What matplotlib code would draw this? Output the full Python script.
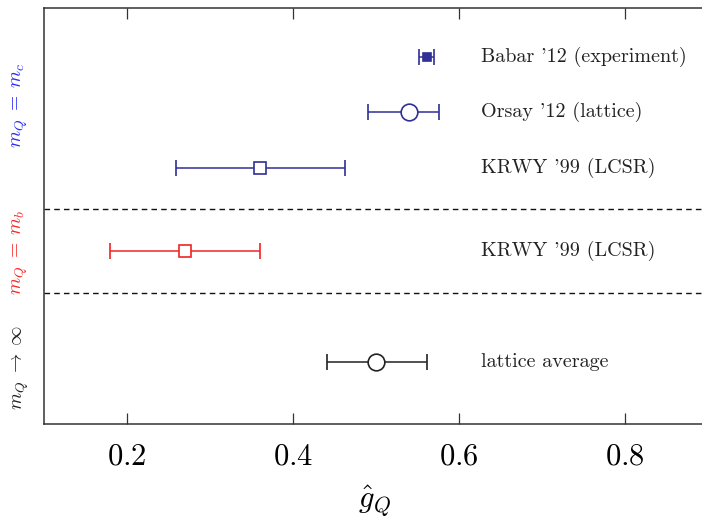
import matplotlib
matplotlib.use("Agg")
import matplotlib.pyplot as plt

plt.rcParams.update({
    "font.family": "serif",
    "font.serif": ["cmr10", "DejaVu Serif"],
    "mathtext.fontset": "cm",
    "axes.unicode_minus": False,
})

# measurements of g_Q (central value, lower, upper)
labels = ["Babar '12 (experiment)", "Orsay '12 (lattice)", "KRWY '99 (LCSR)",
          "KRWY '99 (LCSR)", "lattice average"]
rows = [7.0, 6.0, 5.0, 3.5, 1.5]
centers = [0.561, 0.540, 0.360, 0.270, 0.500]
lows = [0.552, 0.490, 0.259, 0.180, 0.441]
highs = [0.570, 0.576, 0.463, 0.360, 0.561]
markers = ["s", "o", "s", "s", "o"]
filled = [True, False, False, False, False]
msizes = [6, 12, 8, 8, 12]

separators = [4.25, 2.75]
groups = [r"$m_Q\;=\;m_c$", r"$m_Q\;=\;m_b$", r"$m_Q\;\to\;\infty$"]
ticks = [0.2, 0.4, 0.6, 0.8]

NAVY = "#2f2f96"
RED = "#f02424"
BLACK = "#222222"
colors = [NAVY, NAVY, NAVY, RED, BLACK]
group_colors = ["#2b2bf5", "#f52a2a", "#222222"]

fig = plt.figure(figsize=(7.02, 5.19), dpi=100)
ax = fig.add_axes([0.0627, 0.183, 0.946, 0.8015])

for y, c, lo, hi, m, f, ms, col, lab in zip(rows, centers, lows, highs, markers,
                                            filled, msizes, colors, labels):
    ax.errorbar([c], [y], xerr=[[c - lo], [hi - c]], fmt=m, color=col,
                ecolor=col, elinewidth=1.1, capsize=6, capthick=1.1,
                markersize=ms, markeredgewidth=1.2,
                markerfacecolor=col if f else "white", markeredgecolor=col)
    ax.text(0.627, y, lab, ha="left", va="center", fontsize=14.5, color="#222222")

for s in separators:
    ax.axhline(s, color="#111111", linestyle=(0, (4, 3)), linewidth=1.0)

ax.set_xlim(0.1, 0.9)
ax.set_ylim(0.38, 7.88)
ax.set_xticks(ticks)
ax.set_xticklabels([f"${t:.1f}$" for t in ticks], fontsize=22)
ax.set_yticks([])
ax.tick_params(axis="x", direction="in", top=True, length=8, width=0.9,
               pad=14, color="#333333")
for side in ("left", "bottom", "top", "right"):
    ax.spines[side].set_linewidth(1.1)
    ax.spines[side].set_color("#333333")

fig.text(0.534, 0.034, r"$\hat{g}_Q$", ha="center", va="center", fontsize=22)

for gy, g, gc in zip([0.798, 0.514, 0.293], groups, group_colors):
    fig.text(0.029, gy, g, rotation=90, ha="center", va="center",
             fontsize=14, color=gc)

fig.savefig("out.png", dpi=100)
